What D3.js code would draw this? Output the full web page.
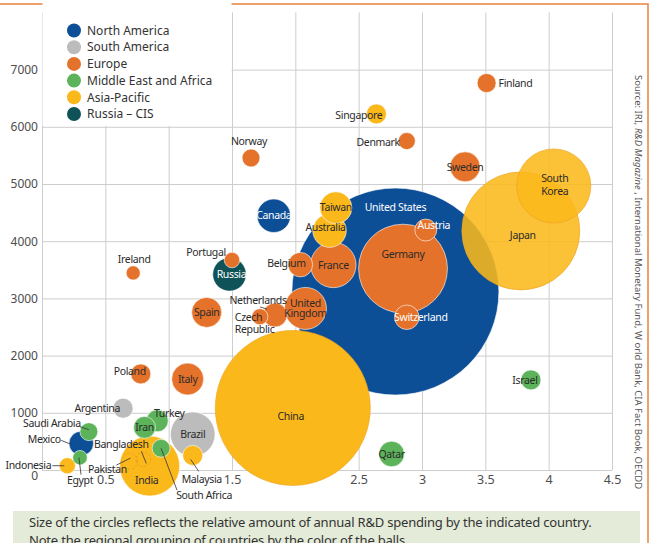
<!DOCTYPE html>
<html>
<head>
<meta charset="utf-8">
<script src="https://cdn.jsdelivr.net/npm/d3@7"></script>
<style>
  body { margin: 0; background: #fff; }
  svg { display: block; font-family: "Noto Sans", "Open Sans", sans-serif; }
</style>
</head>
<body>
<svg id="chart" width="653" height="543"></svg>
<script>
// regions and their ball colours
const regions = ["North America", "South America", "Europe", "Middle East and Africa", "Asia-Pacific", "Russia \u2013 CIS"];
const regionColors = ["#0d4f97", "#bcbcbc", "#e5722a", "#5cb35a", "#fbb81b", "#0f5257"];

// countries, in drawing order (big balls first)
const countries = ["United States", "China", "Japan", "Germany", "South Korea", "India", "France", "Brazil",
  "United Kingdom", "Canada", "Russia", "Australia", "Taiwan", "Italy", "Spain", "Sweden", "Qatar", "Belgium",
  "Switzerland", "Mexico", "Netherlands", "Austria", "Turkey", "Iran", "Israel", "Singapore", "Poland",
  "Argentina", "Malaysia", "Finland", "Norway", "Saudi Arabia", "South Africa", "Denmark", "Czech Republic",
  "Indonesia", "Portugal", "Egypt", "Ireland", "Pakistan", "Bangladesh"];
const countryRegion = [0, 4, 4, 2, 4, 4, 2, 1,
  2, 0, 5, 4, 4, 2, 2, 2, 3, 2,
  2, 0, 2, 2, 3, 3, 3, 4, 2,
  1, 4, 2, 2, 3, 3, 2, 2,
  4, 2, 3, 2, 4, 4];
const xValues = [2.79, 1.98, 3.78, 2.85, 4.04, 0.85, 2.30, 1.19,
  2.08, 1.83, 1.48, 2.27, 2.32, 1.15, 1.30, 3.34, 2.76, 2.04,
  2.88, 0.31, 1.84, 3.03, 0.91, 0.81, 3.86, 2.64, 0.78,
  0.64, 1.19, 3.51, 1.65, 0.37, 0.94, 2.88, 1.72,
  0.20, 1.50, 0.30, 0.72, 0.69, 0.80];
const yValues = [3120, 1085, 4180, 3520, 4965, 70, 3585, 625,
  2825, 4445, 3420, 4185, 4585, 1590, 2755, 5300, 280, 3590,
  2670, 465, 2710, 4195, 860, 745, 1575, 6225, 1680,
  1080, 255, 6765, 5455, 670, 380, 5750, 2680,
  75, 3670, 215, 3445, 155, 185];
// relative annual R&D spending (ball size)
const rdSpend = [428, 240, 139, 79, 55, 36, 20.6, 19.9,
  17.6, 11.2, 11.2, 11.2, 10.2, 10.2, 9.0, 9.0, 6.5, 6.0,
  6.0, 6.0, 5.8, 4.8, 4.8, 4.8, 4.0, 4.0, 4.0,
  4.0, 4.0, 3.6, 3.2, 3.2, 3.2, 2.9, 2.6,
  2.6, 2.4, 2.1, 2.0, 2.6, 2.1];

const xTicks = [0, 0.5, 1, 1.5, 2, 2.5, 3, 3.5, 4, 4.5];
const yTicks = [0, 1000, 2000, 3000, 4000, 5000, 6000, 7000];

const sourceText = ["Source:  IRI,  ", "R&D Magazine", " , International Monetary Fund, W orld Bank, CIA Fact Book, OECDD"];
const captionLines = ["Size of the circles reflects the relative amount of annual R&D spending by the indicated country.",
  "Note the regional grouping of countries by the color of the balls."];

// label placement relative to the ball centre: [dx, dy, anchor, white?, leader line, lines, line height]
const labelLayout = {
  "United States": [0, -84, "middle", true],
  "Germany": [0, -14, "middle"],
  "Austria": [8, -5, "middle", true],
  "Switzerland": [14, 0, "middle", true],
  "Canada": [0, 0, "middle", true],
  "Russia": [2, 0, "middle", true],
  "Australia": [-4, -3, "middle"],
  "Belgium": [-14, -1, "middle"],
  "United Kingdom": [0, 0, "middle", false, null, ["United", "Kingdom"], 10],
  "Netherlands": [-17, -15, "middle", false, [-15, -8, -8, -6]],
  "Czech Republic": [-25, 1, "start", false, null, ["Czech", "Republic"], 12],
  "Portugal": [-26, -8, "middle"],
  "China": [-2, 8, "middle"],
  "Japan": [2, 4, "middle"],
  "South Korea": [1, -1, "middle", false, null, ["South", "Korea"], 13.4],
  "Finland": [12, 0, "start"],
  "Singapore": [6, 1, "end"],
  "Denmark": [-7, 1, "end"],
  "Norway": [-2, -17, "middle"],
  "Ireland": [1, -14, "middle"],
  "Poland": [-11, -3, "middle"],
  "Israel": [-6, 0, "middle"],
  "Argentina": [-3, 0, "end"],
  "Turkey": [12, -7, "middle"],
  "Saudi Arabia": [-37, -8, "middle", false, [-9, -5, 0, -2]],
  "Mexico": [-37, -4, "middle", false, [-20, -3, -10, 1]],
  "Indonesia": [-39, 0, "middle", false, [-15, 0, -3, 0]],
  "Egypt": [0, 23, "middle", false, [1, 17, -1, 0]],
  "Bangladesh": [-22, -15, "middle", false, [-2, -8, 3, 4]],
  "Pakistan": [-22, 8, "middle", false, [-13, 4, 1, -3]],
  "India": [-3, 14, "middle"],
  "South Africa": [43, 47, "middle", false, [0, 0, 16, 42]],
  "Malaysia": [9, 24, "middle", false, [-2, 4, 6, 16]]
};
const dashedBalls = ["Pakistan", "Bangladesh"];

const svg = d3.select("#chart");
const margin = {left: 42, right: 612, top: 12.4, bottom: 470};

const x = d3.scaleLinear().domain([0, 4.5]).range([margin.left, margin.right]);
const y = d3.scaleLinear().domain([0, 8000]).range([margin.bottom, margin.top]);
const r = d3.scaleSqrt().domain([0, 428]).range([0, 103.5]);

// frame
svg.append("path")
  .attr("d", "M0,4H648V543")
  .attr("fill", "none")
  .attr("stroke", "#e8823c")
  .attr("stroke-width", 1.5);

// grid + axes
let yAxis = svg.append("g")
  .attr("transform", "translate(" + margin.left + ",0)")
  .call(d3.axisLeft(y).tickValues(yTicks).tickSize(-(margin.right - margin.left)).tickPadding(4).tickFormat(d3.format("d")));
let xAxis = svg.append("g")
  .attr("transform", "translate(0," + margin.bottom + ")")
  .call(d3.axisBottom(x).tickValues(xTicks).tickSize(-(margin.bottom - margin.top)).tickPadding(5)
    .tickFormat(d => d === 0 ? "" : d));
[xAxis, yAxis].forEach(function (g) {
  g.select(".domain").remove();
  g.attr("font-size", null).attr("font-family", null);
  g.selectAll(".tick line").attr("stroke", "#cdcdcd").attr("stroke-width", 1);
  g.selectAll(".tick text").attr("fill", "#4d4d4d").style("font-size", "12.5px");
});
yAxis.selectAll(".tick text").style("font-size", "12px");
// the zero label sits a little below the baseline, clear of the Indonesia label
yAxis.selectAll(".tick text").filter(d => d === 0).attr("dy", "0.8em");

// legend
svg.append("rect")
  .attr("x", margin.left + 0.5).attr("y", 0)
  .attr("width", 189).attr("height", 126)
  .attr("fill", "#fff");
let legend = svg.append("g").attr("transform", "translate(74,30.5)");
regions.forEach(function (name, i) {
  let row = legend.append("g").attr("transform", "translate(0," + (i * 16.7) + ")");
  row.append("circle").attr("r", 7).attr("fill", regionColors[i]);
  row.append("text")
    .attr("x", 13).attr("dy", "0.35em")
    .attr("fill", "#333")
    .style("font-size", "12px")
    .text(name);
});

// balls
let balls = countries.map(function (c, i) {
  return {name: c, region: countryRegion[i], x: xValues[i], y: yValues[i], spend: rdSpend[i]};
});
svg.append("g")
  .selectAll("circle")
  .data(balls)
  .enter()
  .append("circle")
  .attr("cx", d => x(d.x))
  .attr("cy", d => y(d.y))
  .attr("r", d => r(d.spend))
  .attr("fill", d => dashedBalls.includes(d.name) ? "none" : regionColors[d.region])
  .attr("fill-opacity", d => (d.name === "Japan" || d.name === "South Korea") ? 0.88 : 1)
  .attr("stroke", d => dashedBalls.includes(d.name) ? "#ee9a22" :
    (d.region === 4 && d.spend > 50 ? "#eea01c" : "#fff"))
  .attr("stroke-opacity", d => dashedBalls.includes(d.name) ? 1 : 0.6)
  .attr("stroke-dasharray", d => dashedBalls.includes(d.name) ? "2,2" : null)
  .attr("stroke-width", 1);

// labels
let labels = svg.append("g").style("font-size", "10.5px").style("letter-spacing", "-0.35px");
balls.forEach(function (d) {
  let L = labelLayout[d.name] || [0, 0, "middle"];
  let cx = x(d.x), cy = y(d.y);
  if (L[4]) {
    labels.append("line")
      .attr("x1", cx + L[4][0]).attr("y1", cy + L[4][1])
      .attr("x2", cx + L[4][2]).attr("y2", cy + L[4][3])
      .attr("stroke", "#333").attr("stroke-width", 0.8);
  }
  let lines = L[5] || [d.name];
  let lh = L[6] || 10.5;
  let t = labels.append("text")
    .attr("text-anchor", L[2])
    .attr("fill", L[3] ? "#fff" : "#2b2b2b");
  lines.forEach(function (s, k) {
    let off = L[2] === "start" ? k * lh : (k - (lines.length - 1) / 2) * lh;
    t.append("tspan")
      .attr("x", cx + L[0])
      .attr("y", cy + L[1] + off)
      .attr("dy", "0.35em")
      .text(s);
  });
});

// source note
let src = svg.append("text")
  .attr("transform", "translate(635,75) rotate(90)")
  .attr("fill", "#555")
  .style("font-size", "9.5px");
sourceText.forEach(function (s, i) {
  src.append("tspan").style("font-style", i === 1 ? "italic" : "normal").text(s);
});

// caption
svg.append("rect")
  .attr("x", 13).attr("y", 511)
  .attr("width", 627).attr("height", 40)
  .attr("fill", "#e4ebd8");
captionLines.forEach(function (s, i) {
  svg.append("text")
    .attr("x", 29).attr("y", 527 + i * 18)
    .attr("fill", "#333")
    .style("font-size", "13px")
    .style("letter-spacing", "-0.2px")
    .text(s);
});
</script>
</body>
</html>
